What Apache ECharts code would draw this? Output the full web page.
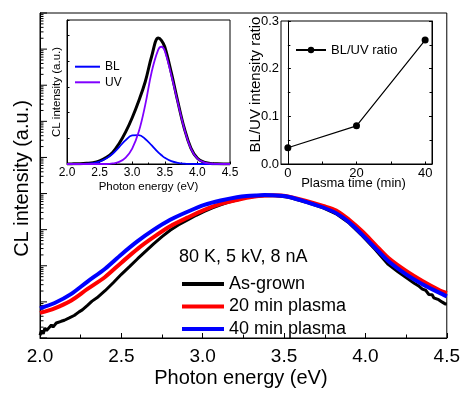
<!DOCTYPE html>
<html>
<head>
<meta charset="utf-8">
<script src="https://cdn.jsdelivr.net/npm/echarts@6/dist/echarts.min.js"></script>
<style>
html,body{margin:0;padding:0;background:#fff;}
#chart{width:463px;height:393px;}
</style>
</head>
<body>
<div id="chart"></div>
<script>
// ---------- Main plot data (photon energy in eV, CL intensity a.u., shown on a log scale) ----------
const blackE = [2.00,2.01,2.02,2.03,2.04,2.05,2.07,2.08,2.10,2.11,2.13,2.15,2.16,2.18,2.19,2.21,2.24,2.26,2.29,2.32,2.35,2.40,2.45,2.50,2.55,2.60,2.65,2.70,2.75,2.80,2.85,2.91,2.96,3.01,3.06,3.11,3.16,3.21,3.27,3.33,3.38,3.43,3.48,3.53,3.63,3.74,3.82,3.90,3.98,4.06,4.14,4.20,4.25,4.30,4.33,4.35,4.37,4.39,4.40,4.41,4.42,4.43,4.45,4.46,4.47,4.48,4.49,4.50];
const blackV = [1.2,1.6,1.3,1.9,1.6,1.8,2.3,2.0,2.6,2.4,2.9,3.1,2.8,3.6,3.7,4.2,5.3,6.0,7.9,10.5,13,20.4,34,58,95,157,255,412,640,962,1350,1880,2500,3190,4000,4850,5800,6650,7900,8400,8710,8780,8410,7890,5860,4010,2750,1520,684,282,109,68,47,33,27,22.5,21,16,14.9,15.8,13,13.8,11.5,12.1,10,10.6,8.8,8.7];

const redE = [2.00,2.09,2.19,2.29,2.40,2.50,2.60,2.70,2.80,2.91,3.01,3.11,3.21,3.27,3.33,3.38,3.43,3.48,3.53,3.63,3.74,3.82,3.90,3.98,4.06,4.14,4.25,4.35,4.45,4.50];
const redV = [4.95,6.65,10.8,22.5,49,122,295,630,1240,2190,3530,5160,6650,7600,8400,8900,9000,8800,8240,6400,4550,3400,1880,903,387,167,72,38,21.7,17.5];

const blueE = [2.00,2.09,2.19,2.29,2.40,2.50,2.60,2.70,2.80,2.91,3.01,3.11,3.21,3.27,3.33,3.38,3.43,3.48,3.53,3.63,3.74,3.82,3.90,3.98,4.06,4.14,4.25,4.35,4.45,4.50];
const blueV = [6.65,9.3,16.4,36,83,206,480,1000,1880,3190,4850,6400,7890,8570,8900,9050,9000,8700,8040,6010,4110,2870,1600,728,314,136,58,31,18.3,14.2];

const mainNames = ['As-grown','20 min plasma','40 min plasma'];
const mainTitle = '80 K, 5 kV, 8 nA';
const decadeMin = 0, decadeMax = 9;   // y range: 10^0 .. 10^9 (a.u.)

// ---------- Left inset: Gaussian decomposition ----------
const insetE   = [2.0,2.1,2.2,2.3,2.4,2.5,2.6,2.7,2.8,2.9,3.0,3.1,3.2,3.3,3.4,3.45,3.5,3.6,3.7,3.8,3.9,4.0,4.1,4.2,4.3,4.4,4.5];
const insetTot = [0,0.005,0.01,0.025,0.05,0.12,0.25,0.45,0.8,1.25,1.8,2.45,3.2,4.2,4.9,4.8,4.55,3.55,2.42,1.38,0.62,0.22,0.07,0.02,0.005,0,0];
const insetUV  = [0,0,0,0,0,0,0,0.02,0.08,0.25,0.6,1.25,2.3,3.6,4.45,4.56,4.4,3.45,2.38,1.36,0.6,0.21,0.065,0.02,0.005,0,0];
const insetBL  = [0,0,0.002,0.011,0.035,0.093,0.21,0.40,0.66,0.93,1.11,1.125,0.975,0.72,0.45,0.34,0.24,0.11,0.043,0.014,0.004,0,0,0,0,0,0];

// ---------- Right inset: BL/UV ratio ----------
const plasmaTime = [0,20,40];
const ratioVal   = [0.034,0.080,0.260];

const FONT = '"Liberation Sans", Arial, sans-serif';
const zip = (a,b) => a.map((v,i)=>[v,b[i]]);
const zipLog = (a,b) => a.map((v,i)=>[v,Math.log10(b[i])]);

// log-axis tick positions (decades and 2..9 sub-ticks), as log10 values
const yTicks = [];
for (let k = decadeMin; k <= decadeMax; k++) {
  yTicks.push([2.0, k, 7]);
  if (k < decadeMax) for (let m = 2; m <= 9; m++) yTicks.push([2.0, k + Math.log10(m), 3.5]);
}

const chart = echarts.init(document.getElementById('chart'), null, {renderer:'canvas'});
const axisTxt = {color:'#000', fontFamily:FONT};

chart.setOption({
  animation:false,
  backgroundColor:'#fff',
  grid:[
    {left:40, top:13, width:408, height:328, show:true, borderColor:'#000', borderWidth:1, backgroundColor:'transparent'},
    {left:67, top:20, width:163, height:144, show:true, borderColor:'#000', borderWidth:1, backgroundColor:'transparent'},
    {left:281, top:21, width:151, height:143, show:true, borderColor:'#000', borderWidth:1, backgroundColor:'transparent'}
  ],
  xAxis:[
    {gridIndex:0, type:'value', min:2, max:4.5, interval:0.5,
     axisLine:{lineStyle:{color:'#000',width:1}},
     axisTick:{inside:true, length:5, lineStyle:{color:'#000'}},
     minorTick:{show:true, splitNumber:2, length:3.5, lineStyle:{color:'#000'}},
     splitLine:{show:false},
     axisLabel:{...axisTxt, fontSize:19, margin:9, formatter:v=>v.toFixed(1)},
     name:'Photon energy (eV)', nameLocation:'middle', nameGap:30, nameMoveOverlap:false,
     nameTextStyle:{...axisTxt, fontSize:20, padding:[0,5,0,0]}},
    {gridIndex:1, type:'value', min:2, max:4.5, interval:0.5,
     axisLine:{lineStyle:{color:'#000',width:1}},
     axisTick:{inside:true, length:2.5, lineStyle:{color:'#000'}},
     minorTick:{show:true, splitNumber:2, length:1.5, lineStyle:{color:'#000'}},
     splitLine:{show:false},
     axisLabel:{...axisTxt, fontSize:12, margin:3, formatter:v=>v.toFixed(1)},
     name:'Photon energy (eV)', nameLocation:'middle', nameGap:16.5, nameMoveOverlap:false,
     nameTextStyle:{...axisTxt, fontSize:11.5}},
    {gridIndex:2, type:'value', min:-2, max:42,
     axisLine:{lineStyle:{color:'#000',width:1}},
     axisTick:{inside:true, length:2.5, customValues:[0,10,20,30,40], lineStyle:{color:'#000'}},
     splitLine:{show:false},
     axisLabel:{...axisTxt, fontSize:13, margin:3, customValues:[0,20,40]},
     name:'Plasma time (min)', nameLocation:'middle', nameGap:13, nameMoveOverlap:false,
     nameTextStyle:{...axisTxt, fontSize:13, padding:[0,6,0,0]}}
  ],
  yAxis:[
    {gridIndex:0, type:'value', min:decadeMin, max:decadeMax, interval:1,
     axisLine:{lineStyle:{color:'#000',width:1}},
     axisTick:{show:false}, splitLine:{show:false}, minorTick:{show:false},
     axisLabel:{show:false},
     name:'CL intensity (a.u.)', nameLocation:'middle', nameGap:8, nameMoveOverlap:false,
     nameTextStyle:{...axisTxt, fontSize:20, padding:[0,6,0,0]}},
    {gridIndex:1, type:'value', min:0, max:5.6, interval:1,
     axisLine:{lineStyle:{color:'#000',width:1}},
     axisTick:{inside:true, length:2.5, lineStyle:{color:'#000'}},
     splitLine:{show:false}, axisLabel:{show:false},
     name:'CL intensity (a.u.)', nameLocation:'middle', nameGap:4.5, nameMoveOverlap:false,
     nameTextStyle:{...axisTxt, fontSize:11.5}},
    {gridIndex:2, type:'value', min:0, max:0.3, interval:0.1,
     axisLine:{lineStyle:{color:'#000',width:1}},
     axisTick:{inside:true, length:3, lineStyle:{color:'#000'}},
     minorTick:{show:true, splitNumber:2, length:2.5, lineStyle:{color:'#000'}},
     splitLine:{show:false},
     axisLabel:{...axisTxt, fontSize:13, margin:2, formatter:v=>v.toFixed(1)},
     name:'BL/UV intensity ratio', nameLocation:'middle', nameGap:17.5, nameMoveOverlap:false,
     nameTextStyle:{...axisTxt, fontSize:15, padding:[0,0,0,16]}},
    {gridIndex:2, type:'value', min:0, max:0.3, interval:0.1, position:'right',
     axisLine:{lineStyle:{color:'#000',width:1}},
     axisTick:{inside:true, length:3, lineStyle:{color:'#000'}},
     minorTick:{show:true, splitNumber:2, length:2.5, lineStyle:{color:'#000'}},
     splitLine:{show:false}, axisLabel:{show:false}}
  ],
  legend:[
    {left:177, top:269, orient:'vertical', icon:'rect', itemWidth:42, itemHeight:4, itemGap:2.5,
     selectedMode:false, textStyle:{...axisTxt, fontSize:18, lineHeight:20}, data:mainNames},
    {left:70, top:54.7, orient:'vertical', icon:'rect', itemWidth:25, itemHeight:2, itemGap:1.6,
     selectedMode:false, textStyle:{...axisTxt, fontSize:12, lineHeight:14}, data:['BL','UV']},
    {left:290, top:37.5, orient:'vertical', itemWidth:30, itemHeight:8,
     selectedMode:false, textStyle:{...axisTxt, fontSize:13, lineHeight:15}, data:['BL/UV ratio']}
  ],
  graphic:[
    {type:'text', left:179, top:248, style:{text:mainTitle, fill:'#000', font:'18px ' + FONT}}
  ],
  series:[
    {type:'custom', xAxisIndex:0, yAxisIndex:0, silent:true, clip:false, data:yTicks,
     renderItem:(params, api)=>{
       const p = api.coord([api.value(0), api.value(1)]);
       const len = api.value(2);
       return {type:'line', shape:{x1:p[0], y1:p[1], x2:p[0]+len, y2:p[1]}, style:{stroke:'#000', lineWidth:1}};
     }},
    {name:mainNames[0], type:'line', xAxisIndex:0, yAxisIndex:0, data:zipLog(blackE,blackV),
     symbol:'none', color:'#000', lineStyle:{color:'#000', width:3}},
    {name:mainNames[1], type:'line', xAxisIndex:0, yAxisIndex:0, data:zipLog(redE,redV), smooth:0.3,
     symbol:'none', color:'#ff0000', lineStyle:{color:'#ff0000', width:4}},
    {name:mainNames[2], type:'line', xAxisIndex:0, yAxisIndex:0, data:zipLog(blueE,blueV), smooth:0.3,
     symbol:'none', color:'#0000ff', lineStyle:{color:'#0000ff', width:4}},
    {name:'Total', type:'line', xAxisIndex:1, yAxisIndex:1, data:zip(insetE,insetTot), smooth:0.4,
     symbol:'none', color:'#000', lineStyle:{color:'#000', width:3}},
    {name:'BL', type:'line', xAxisIndex:1, yAxisIndex:1, data:zip(insetE,insetBL), smooth:0.4,
     symbol:'none', color:'#0000ff', lineStyle:{color:'#0000ff', width:1.8}},
    {name:'UV', type:'line', xAxisIndex:1, yAxisIndex:1, data:zip(insetE,insetUV), smooth:0.4,
     symbol:'none', color:'#8000ff', lineStyle:{color:'#8000ff', width:1.8}},
    {name:'BL/UV ratio', type:'line', xAxisIndex:2, yAxisIndex:2, data:zip(plasmaTime,ratioVal),
     symbol:'circle', symbolSize:7, color:'#000', lineStyle:{color:'#000', width:1.2},
     itemStyle:{color:'#000'}}
  ]
});
</script>
</body>
</html>
